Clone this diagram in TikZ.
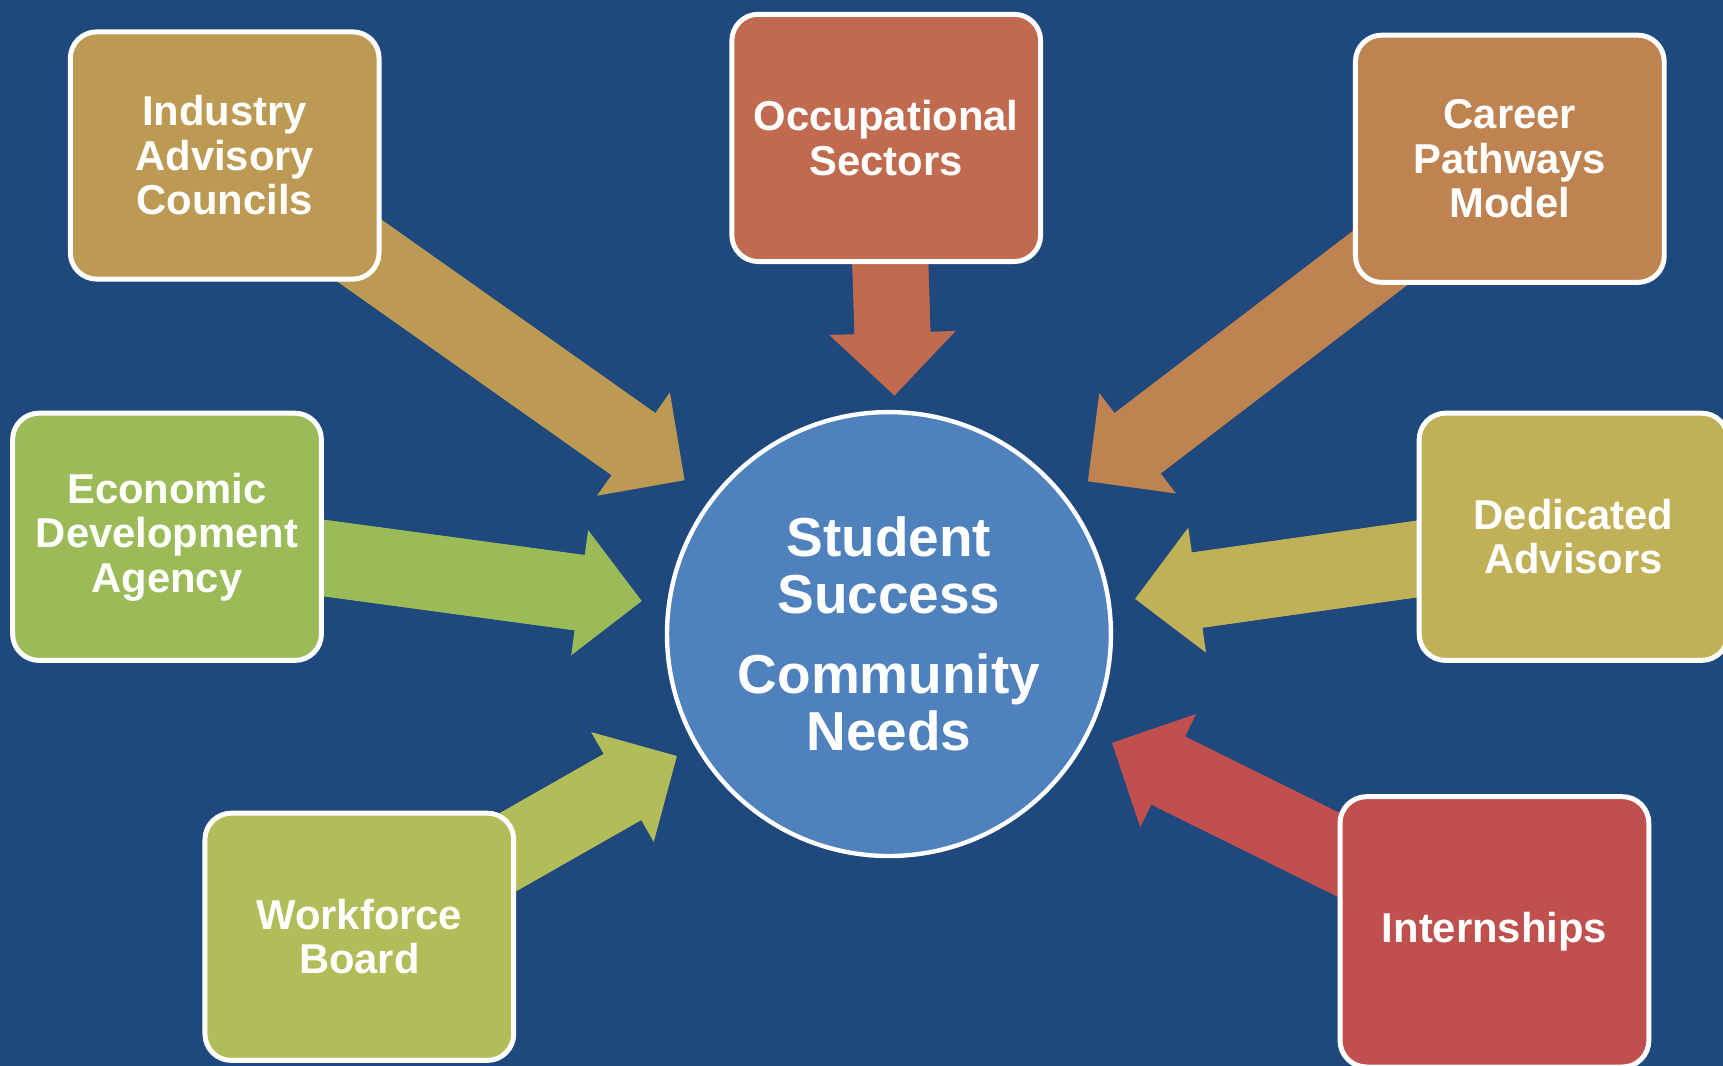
\documentclass[tikz,border=0pt]{standalone}
\usepackage{fontspec}
\setmainfont{Liberation Sans}
\usetikzlibrary{arrows.meta}

\definecolor{bgblue}{RGB}{31,73,125}
\definecolor{hubblue}{RGB}{79,129,189}
\definecolor{indgold}{RGB}{189,154,83}
\definecolor{occrust}{RGB}{192,106,79}
\definecolor{carbrown}{RGB}{191,131,82}
\definecolor{ecogreen}{RGB}{155,187,89}
\definecolor{dedolive}{RGB}{192,177,88}
\definecolor{worlime}{RGB}{178,188,88}
\definecolor{intred}{RGB}{192,80,77}

\pgfdeclarelayer{bg}
\pgfdeclarelayer{feeds}
\pgfsetlayers{bg,feeds,main}

\tikzset{
  box/.style={rectangle, rounded corners=24pt, draw=white, line width=4.5pt,
    minimum width=281pt, minimum height=225pt, align=center, text=white,
    font=\fontsize{38}{40.5}\selectfont\bfseries},
  hub/.style={circle, draw=white, line width=4pt, fill=hubblue,
    minimum size=404pt, align=center, text=white,
    font=\fontsize{50}{52}\selectfont\bfseries},
  feed/.style={line width=69pt,
    -{Triangle[length=57pt, width=115pt, line width=0pt 0 0]},
    postaction={draw, -, shorten >=45pt}},
}

\begin{document}
\begin{tikzpicture}[x=1pt,y=-1pt]
		% background
		\begin{pgfonlayer}{bg}
		\fill[bgblue] (0,0) rectangle (1568,970);
		\end{pgfonlayer}
		\useasboundingbox (0,0) rectangle (1568,970);
		
		% centre
		\node[hub] (hub) at (809,577)
		{Student\\Success\\[21pt]Community\\Needs};
		
		% boxes
		\node[box, fill=indgold] (ind) at (204.5,141.5) {Industry\\Advisory\\Councils};
		\node[box, fill=occrust] (occ) at (806.5,125.5) {Occupational\\Sectors};
		\node[box, fill=carbrown] (car) at (1374,144.5) {Career\\Pathways\\Model};
		\node[box, fill=ecogreen] (eco) at (152,488.5) {Economic\\Development\\Agency};
		\node[box, fill=dedolive] (ded) at (1432,488.5) {Dedicated\\Advisors};
		\node[box, fill=worlime] (wor) at (327,852.5) {Workforce\\Board};
		\node[box, fill=intred, minimum height=246pt] (int) at (1360,848) {Internships};
		
		% arrow tips
		\coordinate (tind) at (623,437);
		\coordinate (tocc) at (814,360);
		\coordinate (tcar) at (990,438);
		\coordinate (teco) at (584,547);
		\coordinate (tded) at (1033,545);
		\coordinate (twor) at (616,688);
		\coordinate (tint) at (1012,676);
		
		% arrows
		\begin{pgfonlayer}{feeds}
		\draw[feed, indgold] (ind.center) -- (tind);
		\draw[feed, occrust] (occ.center) -- (tocc);
		\draw[feed, carbrown] (car.center) -- (tcar);
		\draw[feed, ecogreen] (eco.center) -- (teco);
		\draw[feed, dedolive] (ded.center) -- (tded);
		\draw[feed, worlime] (wor.center) -- (twor);
		\draw[feed, intred] (int.center) -- (tint);
		\end{pgfonlayer}
		
	\end{tikzpicture}
\end{document}
